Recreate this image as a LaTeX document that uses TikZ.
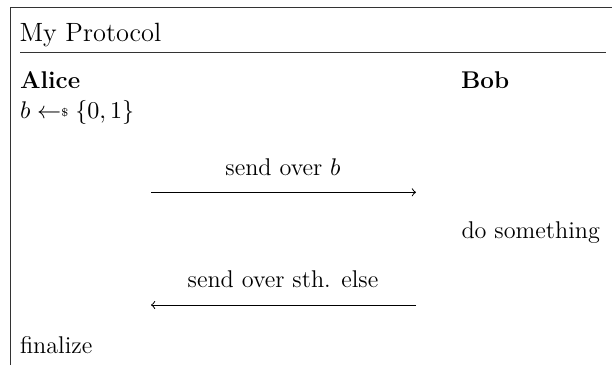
\documentclass[tikz,border=0pt]{standalone}
\begin{document}
\begin{tikzpicture}[x=0.4545pt,y=-0.4545pt,
  txt/.style={inner sep=0pt,outer sep=0pt,font=\fontsize{11}{13.6}\selectfont},
  ttl/.style={inner sep=0pt,outer sep=0pt,font=\fontsize{12}{14.5}\selectfont},
  frame/.style={line width=0.45pt,draw=black!80},
  msg/.style={line width=0.45pt,-to}]
\useasboundingbox (0,0) rectangle (612,365);
% frame
\coordinate (fb) at (10.5,365);
\coordinate (ftl) at (10.5,7);
\coordinate (ftr) at (612,7);
\draw[frame] (fb) -- (ftl) -- (ftr);
% title
\node[ttl,anchor=base west] (title) at (19.5,42) {My Protocol};
\coordinate (hl) at (20,52.3);
\coordinate (hr) at (606,52.3);
\draw[frame] (hl) -- (hr);
% parties
\node[txt,anchor=base west] (alice) at (20,89) {\textbf{Alice}};
\node[txt,anchor=base west] (bob) at (461,89) {\textbf{Bob}};
% steps
\node[txt,anchor=base west] (sample) at (20,119) {$b \mathrel{\leftarrow\mkern-5mu\raisebox{0.2ex}{$\scriptscriptstyle\$$}} \{0,1\}$};
\node[txt,anchor=base] (m1) at (283,175) {send over $b$};
\coordinate (a1s) at (151,192.3);
\coordinate (a1e) at (416,192.3);
\draw[msg] (a1s) -- (a1e);
\node[txt,anchor=base west] (dosth) at (461.5,238) {do something};
\node[txt,anchor=base] (m2) at (283,287) {send over sth. else};
\coordinate (a2s) at (416,305);
\coordinate (a2e) at (151,305);
\draw[msg] (a2s) -- (a2e);
\node[txt,anchor=base west] (fin) at (20,353) {finalize};
\end{tikzpicture}
\end{document}
